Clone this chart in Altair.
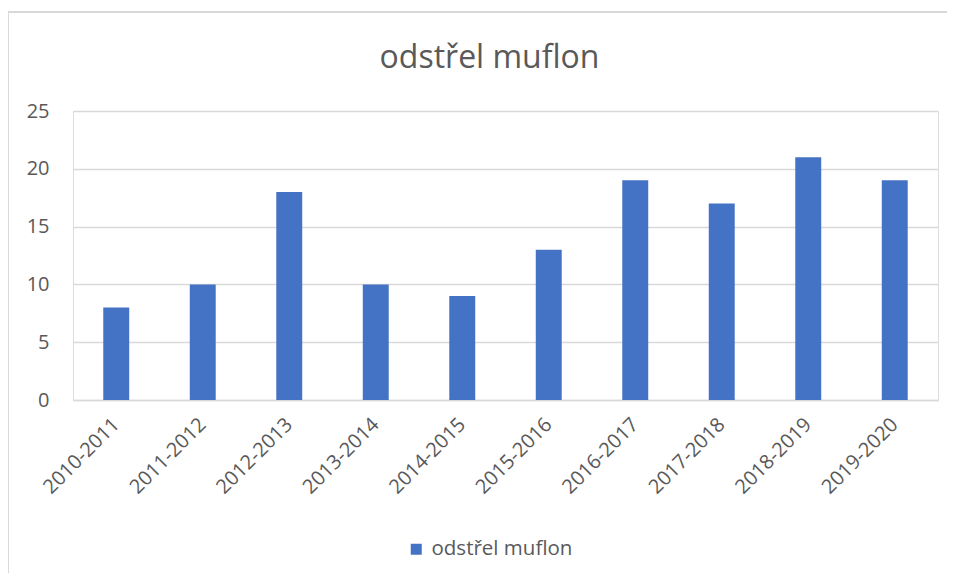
import altair as alt
import pandas as pd

seasons = ["2010-2011", "2011-2012", "2012-2013", "2013-2014", "2014-2015",
           "2015-2016", "2016-2017", "2017-2018", "2018-2019", "2019-2020"]
values = [8, 10, 18, 10, 9, 13, 19, 17, 21, 19]
series_name = "odstřel muflon"

df = pd.DataFrame({"season": seasons, "value": values, "series": [series_name] * len(seasons)})

FONT = "Open Sans"
TXT = "#595959"
GRID = "#D9D9D9"

bars = alt.Chart(df).mark_bar(color="#4472C4").encode(
    x=alt.X("season:N", sort=seasons, title=None,
            scale=alt.Scale(paddingInner=0.7, paddingOuter=0.35),
            axis=alt.Axis(labelAngle=-45, labelFontSize=20, labelColor=TXT, labelFont=FONT,
                          ticks=False, domainColor=GRID, domainWidth=1.5,
                          labelPadding=14, labelOffset=-7)),
    y=alt.Y("value:Q", title=None,
            scale=alt.Scale(domain=[0, 25]),
            axis=alt.Axis(values=[0, 5, 10, 15, 20, 25], labelFontSize=20, labelColor=TXT,
                          labelFont=FONT, ticks=False, domain=False, gridColor=GRID,
                          gridWidth=1.5, labelPadding=24)),
    color=alt.Color("series:N", title=None,
                    scale=alt.Scale(range=["#4472C4"]),
                    legend=alt.Legend(orient="none", legendX=333, legendY=428,
                                      symbolType="square", symbolSize=121,
                                      symbolStrokeWidth=0, labelFontSize=20.5,
                                      labelColor=TXT, labelFont=FONT, labelOffset=5)),
)

border_top = alt.Chart(df).mark_rule(color=GRID, strokeWidth=1.5).encode(
    x=alt.value(-65), x2=alt.value(900), y=alt.value(-99), y2=alt.value(-99))
border_left = alt.Chart(df).mark_rule(color=GRID, strokeWidth=1.5).encode(
    x=alt.value(-65), x2=alt.value(-65), y=alt.value(-99), y2=alt.value(470))

chart = alt.layer(border_top, border_left, bars).properties(
    width=865, height=289,
    padding={"left": 65, "top": 103, "right": 9, "bottom": 173},
    autosize=alt.AutoSizeParams(type="none"),
    title=alt.TitleParams(series_name, font=FONT, fontSize=32, fontWeight="normal",
                          color=TXT, anchor="middle", dx=-16, offset=0, dy=89,
                          baseline="alphabetic"),
).configure_view(stroke=None).configure(background="white")

chart.save("out.html", embed_options={"renderer": "svg", "actions": False})
